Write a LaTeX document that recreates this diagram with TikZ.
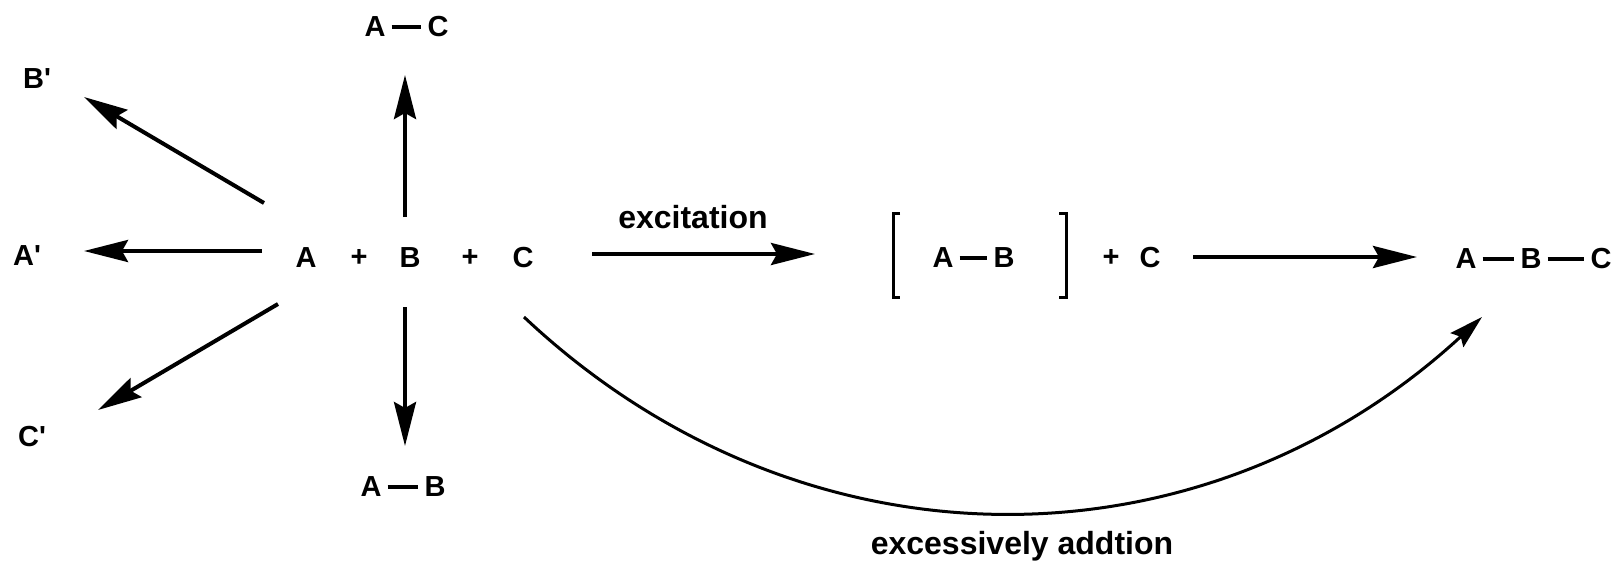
\documentclass[tikz,border=0pt]{standalone}
\usepackage{fontspec}
\setmainfont{Liberation Sans}
\usetikzlibrary{arrows.meta}
\tikzset{
  atom/.style={inner sep=0pt, font=\bfseries\fontsize{29}{34}\selectfont},
  lbl/.style={inner sep=0pt, font=\bfseries\fontsize{32}{38}\selectfont},
  rxn/.style={line width=4pt, -{Stealth[length=44pt,width=22pt,inset=6pt]}},
  curvearr/.style={line width=3pt, -{Stealth[length=34pt,width=19pt,inset=5pt]}},
  bond/.style={line width=4pt, shorten <=6pt, shorten >=6pt},
  brk/.style={line width=3pt}
}
\begin{document}
\begin{tikzpicture}[x=1pt,y=-1pt]
\useasboundingbox (0,0) rectangle (1616,562);
% left products
\node[atom, anchor=west] (Bp) at (23,79) {B\textquotesingle};
\node[atom, anchor=west] (Ap) at (13,256) {A\textquotesingle};
\node[atom, anchor=west] (Cp) at (18,437) {C\textquotesingle};
% main reactants
\node[atom] (A1) at (306,257.5) {A};
\node[atom] (p1) at (359,257.5) {+};
\node[atom] (B1) at (410,257.5) {B};
\node[atom] (p2) at (470,257.5) {+};
\node[atom] (C1) at (523,257.5) {C};
% top A-C
\node[atom] (A2) at (375,27) {A};
\node[atom] (C2) at (438,27) {C};
\draw[bond] (A2.east) -- (C2.west);
% bottom A-B
\node[atom] (A3) at (371,487) {A};
\node[atom] (B3) at (435,487) {B};
\draw[bond] (A3.east) -- (B3.west);
% bracket intermediate
\node[atom] (A4) at (943,257.5) {A};
\node[atom] (B4) at (1004,257.5) {B};
\draw[bond] (A4.east) -- (B4.west);
\node[atom] (p3) at (1111,257.5) {+};
\node[atom] (C4) at (1150,257.5) {C};
\coordinate (LBt) at (893,213);
\coordinate (LBb) at (893,297);
\coordinate (RBt) at (1066,213);
\coordinate (RBb) at (1066,297);
\draw[brk] ([xshift=7pt]LBt) -- (LBt) -- (LBb) -- ([xshift=7pt]LBb);
\draw[brk] ([xshift=-7pt]RBt) -- (RBt) -- (RBb) -- ([xshift=-7pt]RBb);
% final product
\node[atom] (A5) at (1466,258.5) {A};
\node[atom] (B5) at (1531,258.5) {B};
\node[atom] (C5) at (1601,258.5) {C};
\draw[bond] (A5.east) -- (B5.west);
\draw[bond] (B5.east) -- (C5.west);
% arrow endpoints
\coordinate (bs) at (264,203); \coordinate (be) at (84,97);
\coordinate (as) at (262,251); \coordinate (ae) at (84,251);
\coordinate (cs) at (278,304); \coordinate (ce) at (98,410);
\coordinate (us) at (405,217); \coordinate (ue) at (405,75);
\coordinate (ds) at (405,307); \coordinate (de) at (405,446);
\coordinate (xs) at (592,254); \coordinate (xe) at (815,254);
\coordinate (ys) at (1193,257); \coordinate (ye) at (1417,257);
\coordinate (ks) at (524,317); \coordinate (ke) at (1482,317);
\draw[rxn] (bs) -- (be);
\draw[rxn] (as) -- (ae);
\draw[rxn] (cs) -- (ce);
\draw[rxn] (us) -- (ue);
\draw[rxn] (ds) -- (de);
\draw[rxn] (xs) -- (xe);
\draw[rxn] (ys) -- (ye);
\draw[curvearr] (ks) .. controls (800,577) and (1200,577) .. (ke);
% labels
\node[lbl, anchor=base] (exc) at (693,228) {excitation};
\node[lbl, anchor=base] (add) at (1022,554) {excessively addtion};
\end{tikzpicture}
\end{document}
